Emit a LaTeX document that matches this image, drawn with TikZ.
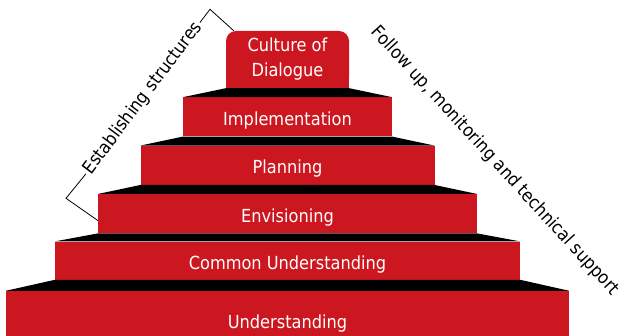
\documentclass[tikz,border=0pt]{standalone}
\usepackage{fontspec}
\setmainfont{DejaVu Sans Condensed}
\usepackage{xcolor}
\usepackage{tikz}
\usetikzlibrary{positioning}

\definecolor{stepred}{RGB}{204,23,32}

\begin{document}
\begin{tikzpicture}[x=1pt, y=1pt, node distance=9pt, inner sep=2pt,
  font=\fontsize{18}{25}\selectfont,
  stepbox/.style={fill=stepred, text=white, minimum height=39pt, text height=17pt, text depth=0pt},
  riser/.style={fill=black},
  bracket/.style={draw=black, line width=0.8pt}]

\useasboundingbox (0,0) rectangle (629,335);

\node[fill=stepred, text=white, rounded corners=10pt, align=center, minimum width=123pt, minimum height=57pt] (culture) at (287.5,275.5) {Culture of\\Dialogue};
\node[stepbox, minimum width=209pt] (impl) [below=of culture] {Implementation};
\node[stepbox, minimum width=294pt] (plan) [below=of impl] {Planning};
\node[stepbox, minimum width=379pt] (env) [below=of plan] {Envisioning};
\node[stepbox, minimum width=465pt, minimum height=38pt] (cu) [below=8pt of env] {Common Understanding};
\node[stepbox, minimum width=563pt, minimum height=58pt] (und) [below=11pt of cu] {Understanding};

% square off the lower corners of the top step
\fill[stepred] (culture.south west) rectangle ([shift={(10pt,10pt)}]culture.south west);
\fill[stepred] (culture.south east) rectangle ([shift={(-10pt,10pt)}]culture.south east);

% black risers between the steps
\foreach \a/\b in {culture/impl, impl/plan, plan/env, env/cu, cu/und}
  \fill[riser] (\a.south west) -- (\a.south east) -- (\b.north east) -- (\b.north west) -- cycle;

% side labels
\node (estab) [rotate=53] at (142.9,236.8) {Establishing structures};
\node (follow) [rotate=-47.5] at (495,174) {Follow up, monitoring and technical support};

\coordinate (estlow) at (66,136.7);
\coordinate (esthigh) at (210,325.7);
\draw[bracket] ([yshift=-6.8pt]env.west) -- (estlow) -- (estab.west);
\draw[bracket] (estab.east) -- (esthigh) -- ([xshift=8pt]culture.north west);

\end{tikzpicture}
\end{document}
